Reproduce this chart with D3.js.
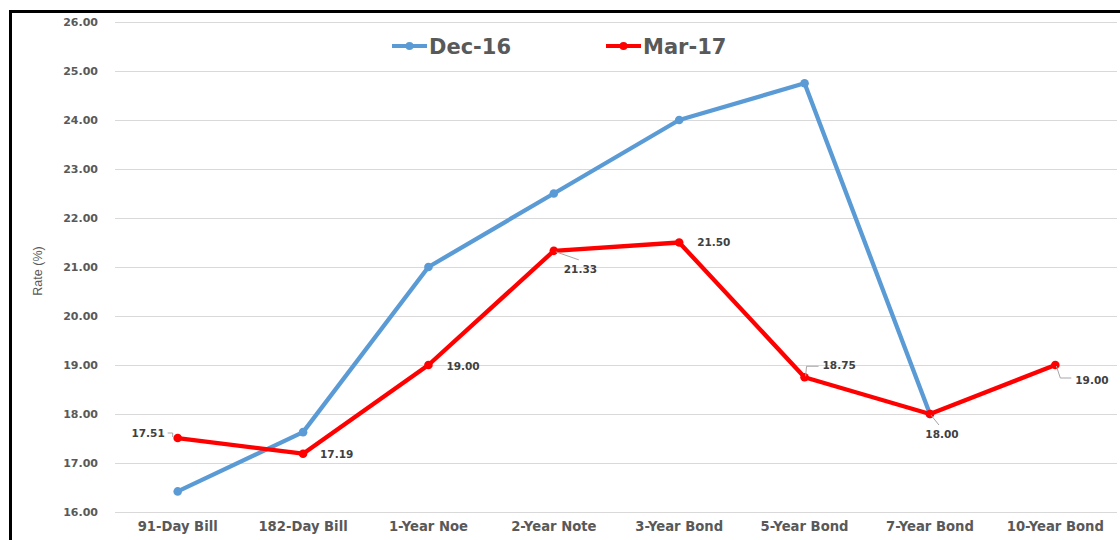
<!DOCTYPE html>
<html>
<head>
<meta charset="utf-8">
<script src="https://cdn.jsdelivr.net/npm/d3@7"></script>
<style>
  html, body { margin: 0; padding: 0; background: #fff; }
  svg { display: block; }
</style>
</head>
<body>
<svg id="chart" width="1120" height="540"></svg>
<script>
const categories = ["91-Day Bill", "182-Day Bill", "1-Year Noe", "2-Year Note", "3-Year Bond", "5-Year Bond", "7-Year Bond", "10-Year Bond"];
const dec16 = [16.42, 17.63, 21.00, 22.50, 24.00, 24.75, 18.00, null];
const mar17 = [17.51, 17.19, 19.00, 21.33, 21.50, 18.75, 18.00, 19.00];
const yTicks = [16, 17, 18, 19, 20, 21, 22, 23, 24, 25, 26];
const seriesNames = ["Dec-16", "Mar-17"];

// label placement (style only): [dx, dy, anchor, leader points relative to data point]
const labelPlacement = [
  { dx: -13, dy: -5, anchor: "end", leader: [[-10, -5], [-5, -5], [-5, -1]] },
  { dx: 17, dy: 1, anchor: "start", leader: null },
  { dx: 18, dy: 1, anchor: "start", leader: null },
  { dx: 10, dy: 18, anchor: "start", leader: [[2, 1], [25, 9]] },
  { dx: 18, dy: 0, anchor: "start", leader: null },
  { dx: 18, dy: -12, anchor: "start", leader: [[1, -1], [2, -11], [14, -11]] },
  { dx: 12, dy: 20, anchor: "middle", leader: [[1, 1], [9, 11]] },
  { dx: 20, dy: 15, anchor: "start", leader: [[1, 1], [5, 13], [16, 13]] }
];

const svg = d3.select("#chart");
const blue = "#5b9bd5", red = "#ff0000";
const grey = "#595959";
const font = "'DejaVu Sans', Verdana, sans-serif";

const x = d3.scaleBand().domain(categories).range([115, 1118]);
const cx = c => x(c) + x.bandwidth() / 2;
const y = d3.scaleLinear().domain([16, 26]).range([512, 22]);

// frame
svg.append("path")
  .attr("d", "M10.5,545 L10.5,11.5 L1125,11.5")
  .attr("fill", "none").attr("stroke", "#000").attr("stroke-width", 3);

// gridlines
svg.append("g").selectAll("line").data(yTicks).join("line")
  .attr("x1", 115).attr("x2", 1117)
  .attr("y1", d => Math.round(y(d)) + 0.5).attr("y2", d => Math.round(y(d)) + 0.5)
  .attr("stroke", "#d9d9d9").attr("stroke-width", 1);

// y axis labels
const yAxis = d3.axisLeft(y).tickValues(yTicks).tickFormat(d3.format(".2f")).tickSize(0).tickPadding(0);
const yg = svg.append("g").attr("transform", "translate(98,0)").call(yAxis);
yg.select(".domain").remove();
yg.selectAll("text").attr("font-family", font).attr("font-size", 11).attr("font-weight", "bold").attr("fill", grey);

// x axis labels
const xAxis = d3.axisBottom(x).tickSize(0).tickPadding(0);
const xg = svg.append("g").attr("transform", "translate(0,522)").call(xAxis);
xg.select(".domain").remove();
xg.selectAll("text").attr("font-family", font).attr("font-size", 13.2).attr("font-weight", "bold").attr("fill", grey);

// y title
svg.append("text")
  .attr("transform", "translate(42,271) rotate(-90)")
  .attr("text-anchor", "middle")
  .attr("font-family", "'Liberation Sans Narrow', 'Arial Narrow', sans-serif")
  .attr("font-size", 12.5).attr("fill", grey)
  .text("Rate (%)");

const line = d3.line().defined(d => d.v != null).x(d => cx(d.c)).y(d => y(d.v));
const toPts = arr => arr.map((v, i) => ({ c: categories[i], v }));

function drawSeries(vals, color) {
  const pts = toPts(vals);
  svg.append("path").datum(pts).attr("d", line)
    .attr("fill", "none").attr("stroke", color).attr("stroke-width", 4.3)
    .attr("stroke-linejoin", "round").attr("stroke-linecap", "round");
  svg.append("g").selectAll("circle").data(pts.filter(d => d.v != null)).join("circle")
    .attr("cx", d => cx(d.c)).attr("cy", d => y(d.v)).attr("r", 4.3).attr("fill", color);
}
drawSeries(dec16, blue);
drawSeries(mar17, red);

// data labels for Mar-17
const lg = svg.append("g");
mar17.forEach((v, i) => {
  const px = cx(categories[i]), py = y(v);
  const p = labelPlacement[i];
  if (p.leader) {
    lg.append("polyline")
      .attr("points", p.leader.map(q => [px + q[0], py + q[1]].join(",")).join(" "))
      .attr("fill", "none").attr("stroke", "#a6a6a6").attr("stroke-width", 1);
  }
  lg.append("text")
    .attr("x", px + p.dx).attr("y", py + p.dy).attr("dy", "0.35em")
    .attr("text-anchor", p.anchor)
    .attr("font-family", font).attr("font-size", 10.5).attr("font-weight", "bold")
    .attr("fill", "#404040")
    .text(d3.format(".2f")(v));
});

// legend
const legendItems = [
  { name: seriesNames[0], color: blue, x: 392 },
  { name: seriesNames[1], color: red, x: 606 }
];
const leg = svg.append("g");
legendItems.forEach(d => {
  leg.append("line").attr("x1", d.x).attr("x2", d.x + 35).attr("y1", 46).attr("y2", 46)
    .attr("stroke", d.color).attr("stroke-width", 4);
  leg.append("circle").attr("cx", d.x + 17.5).attr("cy", 46).attr("r", 4).attr("fill", d.color);
  leg.append("text").attr("x", d.x + 37).attr("y", 46).attr("dy", "0.36em")
    .attr("font-family", font).attr("font-size", 21).attr("font-weight", "bold").attr("fill", grey)
    .text(d.name);
});
</script>
</body>
</html>
